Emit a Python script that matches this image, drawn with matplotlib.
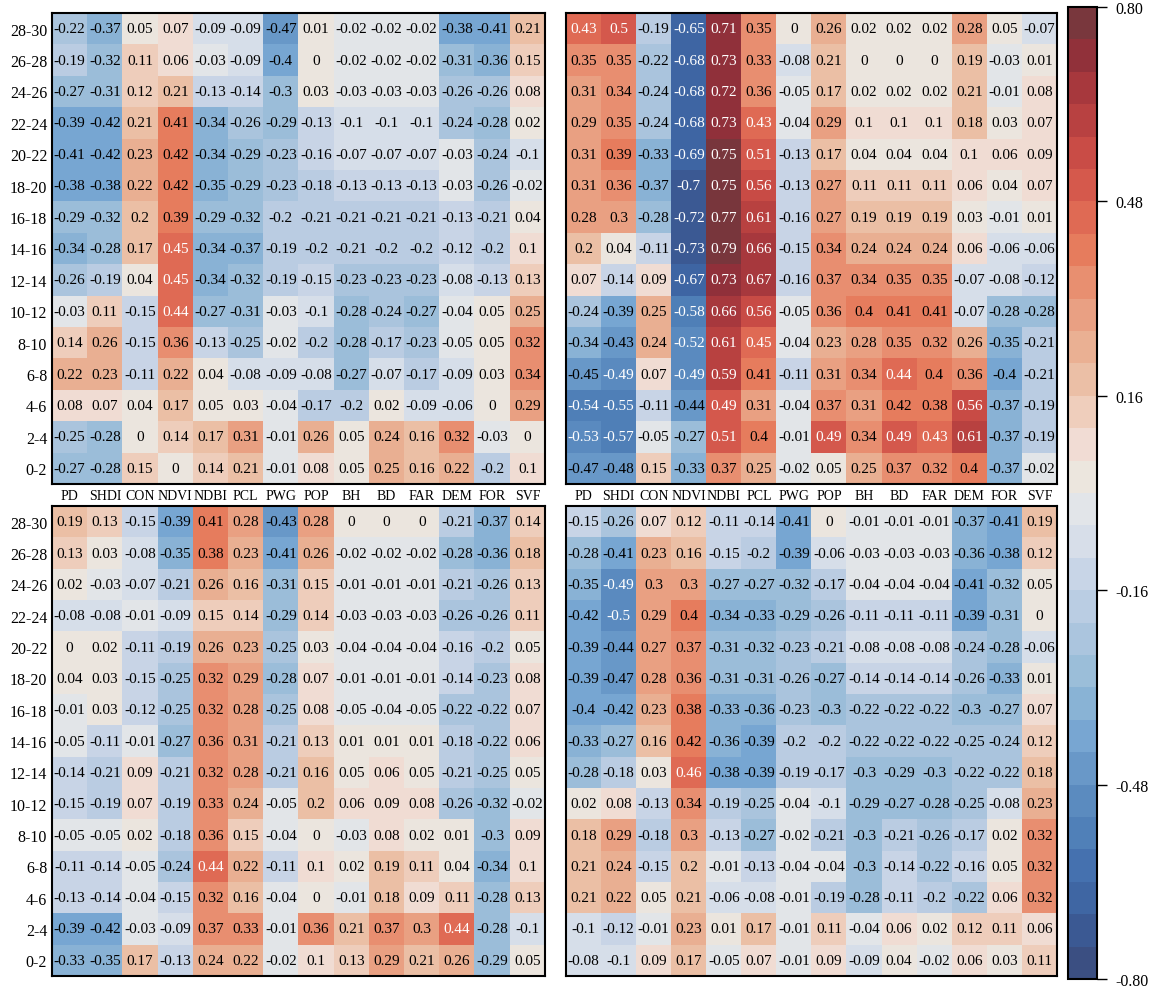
#!/usr/bin/env python3
"""Four correlation heatmaps (hour bins x urban factors) with a shared discrete colorbar."""
import numpy as np
import matplotlib

matplotlib.use("Agg")
import matplotlib.pyplot as plt
from matplotlib.colors import LinearSegmentedColormap, ListedColormap, BoundaryNorm


FACTORS = ["PD", "SHDI", "CON", "NDVI", "NDBI", "PCL", "PWG", "POP",
           "BH", "BD", "FAR", "DEM", "FOR", "SVF"]
PERIODS = ["28-30", "26-28", "24-26", "22-24", "20-22", "18-20", "16-18", "14-16",
           "12-14", "10-12", "8-10", "6-8", "4-6", "2-4", "0-2"]

top_left = [
    [-0.22, -0.37, 0.05, 0.07, -0.09, -0.09, -0.47, 0.01, -0.02, -0.02, -0.02, -0.38, -0.41, 0.21],
    [-0.19, -0.32, 0.11, 0.06, -0.03, -0.09, -0.4, 0, -0.02, -0.02, -0.02, -0.31, -0.36, 0.15],
    [-0.27, -0.31, 0.12, 0.21, -0.13, -0.14, -0.3, 0.03, -0.03, -0.03, -0.03, -0.26, -0.26, 0.08],
    [-0.39, -0.42, 0.21, 0.41, -0.34, -0.26, -0.29, -0.13, -0.1, -0.1, -0.1, -0.24, -0.28, 0.02],
    [-0.41, -0.42, 0.23, 0.42, -0.34, -0.29, -0.23, -0.16, -0.07, -0.07, -0.07, -0.03, -0.24, -0.1],
    [-0.38, -0.38, 0.22, 0.42, -0.35, -0.29, -0.23, -0.18, -0.13, -0.13, -0.13, -0.03, -0.26, -0.02],
    [-0.29, -0.32, 0.2, 0.39, -0.29, -0.32, -0.2, -0.21, -0.21, -0.21, -0.21, -0.13, -0.21, 0.04],
    [-0.34, -0.28, 0.17, 0.45, -0.34, -0.37, -0.19, -0.2, -0.21, -0.2, -0.2, -0.12, -0.2, 0.1],
    [-0.26, -0.19, 0.04, 0.45, -0.34, -0.32, -0.19, -0.15, -0.23, -0.23, -0.23, -0.08, -0.13, 0.13],
    [-0.03, 0.11, -0.15, 0.44, -0.27, -0.31, -0.03, -0.1, -0.28, -0.24, -0.27, -0.04, 0.05, 0.25],
    [0.14, 0.26, -0.15, 0.36, -0.13, -0.25, -0.02, -0.2, -0.28, -0.17, -0.23, -0.05, 0.05, 0.32],
    [0.22, 0.23, -0.11, 0.22, 0.04, -0.08, -0.09, -0.08, -0.27, -0.07, -0.17, -0.09, 0.03, 0.34],
    [0.08, 0.07, 0.04, 0.17, 0.05, 0.03, -0.04, -0.17, -0.2, 0.02, -0.09, -0.06, 0, 0.29],
    [-0.25, -0.28, 0, 0.14, 0.17, 0.31, -0.01, 0.26, 0.05, 0.24, 0.16, 0.32, -0.03, 0],
    [-0.27, -0.28, 0.15, 0, 0.14, 0.21, -0.01, 0.08, 0.05, 0.25, 0.16, 0.22, -0.2, 0.1],
]

top_right = [
    [0.43, 0.5, -0.19, -0.65, 0.71, 0.35, 0, 0.26, 0.02, 0.02, 0.02, 0.28, 0.05, -0.07],
    [0.35, 0.35, -0.22, -0.68, 0.73, 0.33, -0.08, 0.21, 0, 0, 0, 0.19, -0.03, 0.01],
    [0.31, 0.34, -0.24, -0.68, 0.72, 0.36, -0.05, 0.17, 0.02, 0.02, 0.02, 0.21, -0.01, 0.08],
    [0.29, 0.35, -0.24, -0.68, 0.73, 0.43, -0.04, 0.29, 0.1, 0.1, 0.1, 0.18, 0.03, 0.07],
    [0.31, 0.39, -0.33, -0.69, 0.75, 0.51, -0.13, 0.17, 0.04, 0.04, 0.04, 0.1, 0.06, 0.09],
    [0.31, 0.36, -0.37, -0.7, 0.75, 0.56, -0.13, 0.27, 0.11, 0.11, 0.11, 0.06, 0.04, 0.07],
    [0.28, 0.3, -0.28, -0.72, 0.77, 0.61, -0.16, 0.27, 0.19, 0.19, 0.19, 0.03, -0.01, 0.01],
    [0.2, 0.04, -0.11, -0.73, 0.79, 0.66, -0.15, 0.34, 0.24, 0.24, 0.24, 0.06, -0.06, -0.06],
    [0.07, -0.14, 0.09, -0.67, 0.73, 0.67, -0.16, 0.37, 0.34, 0.35, 0.35, -0.07, -0.08, -0.12],
    [-0.24, -0.39, 0.25, -0.58, 0.66, 0.56, -0.05, 0.36, 0.4, 0.41, 0.41, -0.07, -0.28, -0.28],
    [-0.34, -0.43, 0.24, -0.52, 0.61, 0.45, -0.04, 0.23, 0.28, 0.35, 0.32, 0.26, -0.35, -0.21],
    [-0.45, -0.49, 0.07, -0.49, 0.59, 0.41, -0.11, 0.31, 0.34, 0.44, 0.4, 0.36, -0.4, -0.21],
    [-0.54, -0.55, -0.11, -0.44, 0.49, 0.31, -0.04, 0.37, 0.31, 0.42, 0.38, 0.56, -0.37, -0.19],
    [-0.53, -0.57, -0.05, -0.27, 0.51, 0.4, -0.01, 0.49, 0.34, 0.49, 0.43, 0.61, -0.37, -0.19],
    [-0.47, -0.48, 0.15, -0.33, 0.37, 0.25, -0.02, 0.05, 0.25, 0.37, 0.32, 0.4, -0.37, -0.02],
]

bottom_left = [
    [0.19, 0.13, -0.15, -0.39, 0.41, 0.28, -0.43, 0.28, 0, 0, 0, -0.21, -0.37, 0.14],
    [0.13, 0.03, -0.08, -0.35, 0.38, 0.23, -0.41, 0.26, -0.02, -0.02, -0.02, -0.28, -0.36, 0.18],
    [0.02, -0.03, -0.07, -0.21, 0.26, 0.16, -0.31, 0.15, -0.01, -0.01, -0.01, -0.21, -0.26, 0.13],
    [-0.08, -0.08, -0.01, -0.09, 0.15, 0.14, -0.29, 0.14, -0.03, -0.03, -0.03, -0.26, -0.26, 0.11],
    [0, 0.02, -0.11, -0.19, 0.26, 0.23, -0.25, 0.03, -0.04, -0.04, -0.04, -0.16, -0.2, 0.05],
    [0.04, 0.03, -0.15, -0.25, 0.32, 0.29, -0.28, 0.07, -0.01, -0.01, -0.01, -0.14, -0.23, 0.08],
    [-0.01, 0.03, -0.12, -0.25, 0.32, 0.28, -0.25, 0.08, -0.05, -0.04, -0.05, -0.22, -0.22, 0.07],
    [-0.05, -0.11, -0.01, -0.27, 0.36, 0.31, -0.21, 0.13, 0.01, 0.01, 0.01, -0.18, -0.22, 0.06],
    [-0.14, -0.21, 0.09, -0.21, 0.32, 0.28, -0.21, 0.16, 0.05, 0.06, 0.05, -0.21, -0.25, 0.05],
    [-0.15, -0.19, 0.07, -0.19, 0.33, 0.24, -0.05, 0.2, 0.06, 0.09, 0.08, -0.26, -0.32, -0.02],
    [-0.05, -0.05, 0.02, -0.18, 0.36, 0.15, -0.04, 0, -0.03, 0.08, 0.02, 0.01, -0.3, 0.09],
    [-0.11, -0.14, -0.05, -0.24, 0.44, 0.22, -0.11, 0.1, 0.02, 0.19, 0.11, 0.04, -0.34, 0.1],
    [-0.13, -0.14, -0.04, -0.15, 0.32, 0.16, -0.04, 0, -0.01, 0.18, 0.09, 0.11, -0.28, 0.13],
    [-0.39, -0.42, -0.03, -0.09, 0.37, 0.33, -0.01, 0.36, 0.21, 0.37, 0.3, 0.44, -0.28, -0.1],
    [-0.33, -0.35, 0.17, -0.13, 0.24, 0.22, -0.02, 0.1, 0.13, 0.29, 0.21, 0.26, -0.29, 0.05],
]

bottom_right = [
    [-0.15, -0.26, 0.07, 0.12, -0.11, -0.14, -0.41, 0, -0.01, -0.01, -0.01, -0.37, -0.41, 0.19],
    [-0.28, -0.41, 0.23, 0.16, -0.15, -0.2, -0.39, -0.06, -0.03, -0.03, -0.03, -0.36, -0.38, 0.12],
    [-0.35, -0.49, 0.3, 0.3, -0.27, -0.27, -0.32, -0.17, -0.04, -0.04, -0.04, -0.41, -0.32, 0.05],
    [-0.42, -0.5, 0.29, 0.4, -0.34, -0.33, -0.29, -0.26, -0.11, -0.11, -0.11, -0.39, -0.31, 0],
    [-0.39, -0.44, 0.27, 0.37, -0.31, -0.32, -0.23, -0.21, -0.08, -0.08, -0.08, -0.24, -0.28, -0.06],
    [-0.39, -0.47, 0.28, 0.36, -0.31, -0.31, -0.26, -0.27, -0.14, -0.14, -0.14, -0.26, -0.33, 0.01],
    [-0.4, -0.42, 0.23, 0.38, -0.33, -0.36, -0.23, -0.3, -0.22, -0.22, -0.22, -0.3, -0.27, 0.07],
    [-0.33, -0.27, 0.16, 0.42, -0.36, -0.39, -0.2, -0.2, -0.22, -0.22, -0.22, -0.25, -0.24, 0.12],
    [-0.28, -0.18, 0.03, 0.46, -0.38, -0.39, -0.19, -0.17, -0.3, -0.29, -0.3, -0.22, -0.22, 0.18],
    [0.02, 0.08, -0.13, 0.34, -0.19, -0.25, -0.04, -0.1, -0.29, -0.27, -0.28, -0.25, -0.08, 0.23],
    [0.18, 0.29, -0.18, 0.3, -0.13, -0.27, -0.02, -0.21, -0.3, -0.21, -0.26, -0.17, 0.02, 0.32],
    [0.21, 0.24, -0.15, 0.2, -0.01, -0.13, -0.04, -0.04, -0.3, -0.14, -0.22, -0.16, 0.05, 0.32],
    [0.21, 0.22, 0.05, 0.21, -0.06, -0.08, -0.01, -0.19, -0.28, -0.11, -0.2, -0.22, 0.06, 0.32],
    [-0.1, -0.12, -0.01, 0.23, 0.01, 0.17, -0.01, 0.11, -0.04, 0.06, 0.02, 0.12, 0.11, 0.06],
    [-0.08, -0.1, 0.09, 0.17, -0.05, 0.07, -0.01, 0.09, -0.09, 0.04, -0.02, 0.06, 0.03, 0.11],
]

CBAR_TICKS = [0.80, 0.48, 0.16, -0.16, -0.48, -0.80]

VMIN, VMAX, NBANDS = -0.8, 0.8, 30
ANCHORS = [
    (-0.80, "#3b4a7a"), (-0.72, "#3b5a95"), (-0.64, "#416cab"), (-0.56, "#5080b8"),
    (-0.48, "#6292c4"), (-0.40, "#77a6d2"), (-0.32, "#93bad7"), (-0.24, "#abc5de"),
    (-0.16, "#c1d0e5"), (-0.10, "#d2dbe9"), (-0.03, "#e2e5e9"), (0.03, "#ece6de"),
    (0.10, "#f3d8cf"), (0.16, "#ecc6ae"), (0.24, "#eab093"), (0.32, "#e9987a"),
    (0.40, "#e77e5e"), (0.48, "#dc6150"), (0.56, "#c94c46"), (0.64, "#b23d3f"),
    (0.72, "#93303a"), (0.80, "#6d3a3e"),
]


def build_cmap():
    pos = [(v - VMIN) / (VMAX - VMIN) for v, _ in ANCHORS]
    smooth = LinearSegmentedColormap.from_list("muted_rdbu", list(zip(pos, [c for _, c in ANCHORS])))
    centers = (np.arange(NBANDS) + 0.5) / NBANDS
    cmap = ListedColormap(smooth(centers))
    bounds = np.round(np.linspace(VMIN, VMAX, NBANDS + 1), 6)
    return cmap, BoundaryNorm(bounds, NBANDS)


def draw_panel(ax, data, cmap, norm, ylabels=True, xlabels=True):
    arr = np.array(data, dtype=float)
    im = ax.imshow(arr, cmap=cmap, norm=norm, aspect="auto", interpolation="nearest")
    for i in range(arr.shape[0]):
        for j in range(arr.shape[1]):
            v = arr[i, j]
            color = "white" if (v >= 0.43 or v <= -0.49) else "black"
            ax.text(j, i, f"{v:g}", ha="center", va="center", fontsize=11, color=color)
    ax.set_xticks(range(len(FACTORS)))
    ax.set_yticks(range(len(PERIODS)))
    ax.set_xticklabels(FACTORS if xlabels else [])
    ax.set_yticklabels(PERIODS if ylabels else [])
    ax.tick_params(length=0, pad=3.5)
    ax.tick_params(axis="y", labelsize=11.5)
    ax.tick_params(axis="x", labelsize=10)
    for s in ax.spines.values():
        s.set_linewidth(1.5)
        s.set_color("black")
    return im


def main():
    plt.rcParams.update({
        "font.family": ["Liberation Serif", "DejaVu Serif"],
    })
    cmap, norm = build_cmap()

    W, H = 1157, 987
    fig = plt.figure(figsize=(W / 100, H / 100), dpi=100)

    def frac(x0, y0, x1, y1):
        return [x0 / W, 1 - y1 / H, (x1 - x0) / W, (y1 - y0) / H]

    ax_tl = fig.add_axes(frac(52, 14, 545, 485))
    ax_tr = fig.add_axes(frac(566, 14, 1057, 485))
    ax_bl = fig.add_axes(frac(52, 507, 545, 977))
    ax_br = fig.add_axes(frac(566, 507, 1057, 977))
    cax = fig.add_axes(frac(1068, 8, 1097, 980))

    im = draw_panel(ax_tl, top_left, cmap, norm, ylabels=True, xlabels=True)
    draw_panel(ax_tr, top_right, cmap, norm, ylabels=False, xlabels=True)
    draw_panel(ax_bl, bottom_left, cmap, norm, ylabels=True, xlabels=False)
    draw_panel(ax_br, bottom_right, cmap, norm, ylabels=False, xlabels=False)

    cb = fig.colorbar(im, cax=cax, ticks=CBAR_TICKS, spacing="proportional")
    cb.minorticks_off()
    cb.ax.set_yticklabels([f"{t:.2f}" for t in CBAR_TICKS])
    cb.ax.tick_params(labelsize=11.5, length=7, width=1, pad=6)
    cb.outline.set_linewidth(1.5)

    fig.savefig("out.png", dpi=100)
    plt.close(fig)


if __name__ == "__main__":
    main()
